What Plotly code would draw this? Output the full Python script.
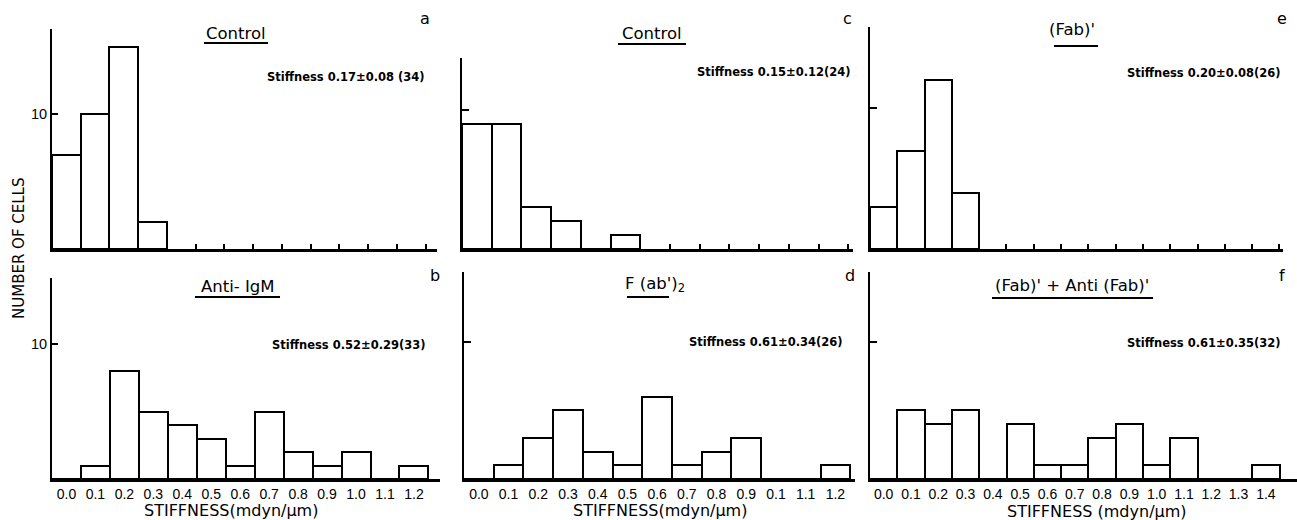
import plotly.graph_objects as go

W, H = 1297, 520

# ---- data ----
labels_b = ["0.0", "0.1", "0.2", "0.3", "0.4", "0.5", "0.6", "0.7", "0.8", "0.9", "1.0", "1.1", "1.2"]
labels_d = ["0.0", "0.1", "0.2", "0.3", "0.4", "0.5", "0.6", "0.7", "0.8", "0.9", "0.1", "1.1", "1.2"]
labels_f = ["0.0", "0.1", "0.2", "0.3", "0.4", "0.5", "0.6", "0.7", "0.8", "0.9", "1.0", "1.1", "1.2", "1.3", "1.4"]

counts_a = [7, 10, 15, 2]
counts_b = [0, 1, 8, 5, 4, 3, 1, 5, 2, 1, 2, 0, 1]
counts_c = [9, 9, 3, 2, 0, 1]
counts_d = [0, 1, 3, 5, 2, 1, 6, 1, 2, 3, 0, 0, 1]
counts_e = [3, 7, 12, 4]
counts_f = [0, 5, 4, 5, 0, 4, 1, 1, 3, 4, 1, 3, 0, 0, 1]

titles = ["Control", "Anti- IgM", "Control", "F (ab')<sub>2</sub>", "(Fab)'", "(Fab)' + Anti (Fab)'"]
letters = ["a", "b", "c", "d", "e", "f"]
stats = ["Stiffness 0.17±0.08 (34)", "Stiffness 0.52±0.29(33)", "Stiffness 0.15±0.12(24)",
         "Stiffness 0.61±0.34(26)", "Stiffness 0.20±0.08(26)", "Stiffness 0.61±0.35(32)"]
x_title = "STIFFNESS(mdyn/μm)"
x_title_f = "STIFFNESS (mdyn/μm)"
y_title = "NUMBER OF CELLS"


def fx(px):
    return px / W


def fy(py):
    return 1 - py / H


# panel geometry (pixels): x0, x1, xmax(range), y_top, y_base, ymax(range)
panels = [
    dict(counts=counts_a, x0=52, x1=437, xr=12.9, yt=29, yb=249, yr=16.3, labels=None, nb=13),
    dict(counts=counts_b, x0=52, x1=440, xr=12.9, yt=278, yb=479, yr=14.9, labels=labels_b, nb=13),
    dict(counts=counts_c, x0=462, x1=853, xr=12.66, yt=58, yb=249, yr=13.74, labels=None, nb=13),
    dict(counts=counts_d, x0=464, x1=855, xr=12.66, yt=272, yb=479, yr=15.1, labels=labels_d, nb=13),
    dict(counts=counts_e, x0=870, x1=1283, xr=14.63, yt=27, yb=249, yr=15.78, labels=None, nb=15),
    dict(counts=counts_f, x0=870, x1=1297, xr=15.14, yt=272, yb=479, yr=15.1, labels=labels_f, nb=15),
]

fig = go.Figure()
layout = {}
font_main = "DejaVu Sans"

for i, p in enumerate(panels):
    n = i + 1
    xa = "x" if n == 1 else f"x{n}"
    ya = "y" if n == 1 else f"y{n}"
    xk = "xaxis" if n == 1 else f"xaxis{n}"
    yk = "yaxis" if n == 1 else f"yaxis{n}"
    fig.add_trace(go.Bar(
        x=list(range(len(p["counts"]))), y=p["counts"], width=1,
        marker=dict(color="white", line=dict(color="black", width=2)),
        xaxis=xa, yaxis=ya, showlegend=False, hoverinfo="x+y",
    ))
    xaxis = dict(
        domain=[fx(p["x0"]), fx(p["x1"])], range=[-0.5, p["xr"]], anchor=ya,
        showline=True, linecolor="black", linewidth=2.5, showgrid=False, zeroline=False,
        fixedrange=True, automargin=False,
    )
    if p["labels"] is None:
        xaxis.update(tickmode="array", tickvals=[k + 0.5 for k in range(p["nb"])],
                     ticks="inside", ticklen=5,
                     tickwidth=1.5, tickcolor="black", showticklabels=False)
    else:
        xaxis.update(tickmode="array", tickvals=list(range(len(p["labels"]))),
                     ticktext=p["labels"], ticks="", showticklabels=True,
                     tickfont=dict(family="Liberation Sans", size=14, color="black"))
    layout[xk] = xaxis
    yaxis = dict(
        domain=[fy(p["yb"]), fy(p["yt"])], range=[0, p["yr"]], anchor=xa,
        showline=True, linecolor="black", linewidth=2, showgrid=False, zeroline=False,
        tickmode="array", tickvals=[10], tickwidth=1.5, tickcolor="black",
        fixedrange=True, automargin=False, ticks="inside",
    )
    if i in (0, 1):
        yaxis.update(ticklen=6, ticktext=["10"], showticklabels=True,
                     tickfont=dict(family="Liberation Sans", size=14.5, color="black"))
    else:
        yaxis.update(ticklen=7, showticklabels=False)
    layout[yk] = yaxis

annotations = []
shapes = []

# titles (center x, center y, underline y, underline x0, x1)
title_pos = [
    (236, 33, 43, 204, 268),
    (238, 286, 297, 195, 280),
    (652, 33, 44, 618, 686),
    (655, 284, 297, 627, 669),
    (1072, 29, 46, 1054, 1098),
    (1072, 285, 298, 992, 1153),
]
for t, (cx, cy, uy, u0, u1) in zip(titles, title_pos):
    annotations.append(dict(text=t, x=fx(cx), y=fy(cy), xref="paper", yref="paper",
                            showarrow=False, xanchor="center", yanchor="middle",
                            font=dict(family=font_main, size=16.5, color="black")))
    shapes.append(dict(type="line", xref="paper", yref="paper", x0=fx(u0), x1=fx(u1),
                       y0=fy(uy), y1=fy(uy), line=dict(color="black", width=2)))

letter_pos = [(425, 19), (435, 275), (847, 19), (850, 275), (1282, 19), (1282, 275)]
for t, (cx, cy) in zip(letters, letter_pos):
    annotations.append(dict(text=t, x=fx(cx), y=fy(cy), xref="paper", yref="paper",
                            showarrow=False, xanchor="center", yanchor="middle",
                            font=dict(family=font_main, size=16, color="black")))

stats_pos = [(427, 77), (428, 345), (853, 72), (845, 342), (1283, 73), (1283, 343)]
for t, (rx, cy) in zip(stats, stats_pos):
    annotations.append(dict(text="<b>" + t + "</b>", x=fx(rx), y=fy(cy), xref="paper", yref="paper",
                            showarrow=False, xanchor="right", yanchor="middle",
                            font=dict(family=font_main, size=11.5, color="black")))

for t, (cx, cy) in [(x_title, (231, 510)), (x_title, (660, 510)), (x_title_f, (1097, 511))]:
    annotations.append(dict(text=t, x=fx(cx), y=fy(cy), xref="paper", yref="paper",
                            showarrow=False, xanchor="center", yanchor="middle",
                            font=dict(family=font_main, size=16, color="black")))

annotations.append(dict(text=y_title, x=fx(19), y=fy(248), xref="paper", yref="paper",
                        showarrow=False, xanchor="center", yanchor="middle", textangle=-90,
                        font=dict(family=font_main, size=15, color="black")))

fig.update_layout(
    width=W, height=H, margin=dict(l=0, r=0, t=0, b=0, autoexpand=False),
    paper_bgcolor="white", plot_bgcolor="white",
    annotations=annotations, shapes=shapes, bargap=0,
    **layout,
)

fig.write_html(
    "out.html",
    config={"displayModeBar": False},
    post_script="document.body.style.margin='0px';document.body.style.overflow='hidden';",
)
